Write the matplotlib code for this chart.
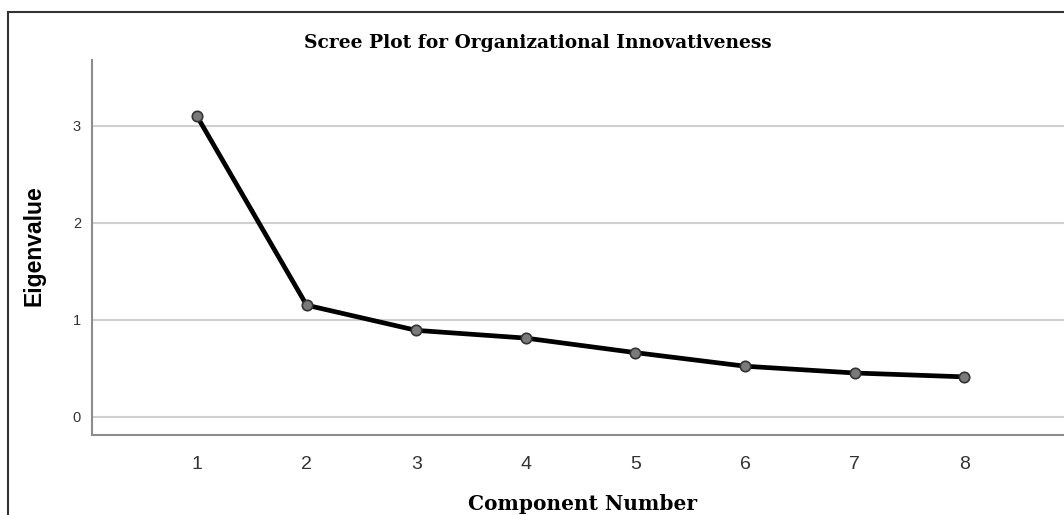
import matplotlib
matplotlib.use("Agg")
import matplotlib.pyplot as plt
from matplotlib.patches import Rectangle

# scree plot data
components = [1, 2, 3, 4, 5, 6, 7, 8]
eigenvalues = [3.10, 1.15, 0.89, 0.81, 0.66, 0.52, 0.45, 0.41]
y_ticks = [0, 1, 2, 3]

fig = plt.figure(figsize=(10.64, 5.15), dpi=100)
W, H = 1064, 515

# outer frame of the screenshot
fig.patches.append(Rectangle((8 / W, -0.01), 1.1, 1 - 12 / H + 0.01,
                             transform=fig.transFigure, fill=False,
                             edgecolor="#333333", linewidth=1.5))

ax = fig.add_axes([92 / W, 1 - 435 / H, (W - 92) / W, (435 - 60) / H])

ax.plot(components, eigenvalues, color="black", linewidth=3.4,
        marker="o", markersize=7.5, markerfacecolor="#7a7a7a",
        markeredgecolor="#333333", markeredgewidth=1.2, zorder=3)

ax.set_xlim(0.042, 8.91)
ax.set_ylim(-0.19, 3.68)
ax.set_xticks(components)
ax.set_yticks(y_ticks)
ax.tick_params(length=0)
ax.tick_params(axis="x", labelsize=14, labelcolor="#333333", pad=15)
ax.tick_params(axis="y", labelsize=10.5, labelcolor="#333333", pad=8)
for lab in ax.get_xticklabels() + ax.get_yticklabels():
    lab.set_family("Liberation Sans")

ax.grid(axis="y", color="#d0d0d0", linewidth=1.5)
ax.set_axisbelow(True)
for s in ["top", "right"]:
    ax.spines[s].set_visible(False)
for s in ["left", "bottom"]:
    ax.spines[s].set_color("#8c8c8c")
    ax.spines[s].set_linewidth(1.5)

fig.text(538 / W, 1 - 43 / H, "Scree Plot for Organizational Innovativeness",
         ha="center", va="center", fontsize=13.4, fontweight="bold",
         family="DejaVu Serif")
fig.text(583 / W, 1 - 504 / H, "Component Number", ha="center", va="center",
         fontsize=14.5, fontweight="bold", family="DejaVu Serif")
fig.text(34 / W, 1 - 246 / H, "Eigenvalue", ha="center", va="center",
         rotation=90, fontsize=16.5, fontweight="bold", family="Liberation Sans")

fig.savefig("out.png", dpi=100)
